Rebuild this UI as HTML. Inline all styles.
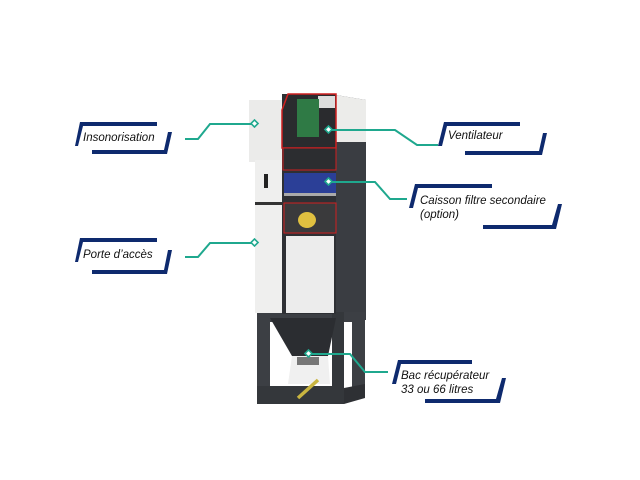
<!DOCTYPE html>
<html><head><meta charset="utf-8"><style>
body{margin:0;background:#fff;width:640px;height:480px;overflow:hidden}
svg{display:block}
text{font-family:"Liberation Sans",sans-serif;font-style:italic;font-size:11.5px;fill:#111}
</style></head><body>
<svg width="640" height="480" viewBox="0 0 640 480">
<!-- right dark side -->
<polygon points="336,95 366,100 366,320 336,320" fill="#3a3d42"/>
<polygon points="336,95 366,100 366,142 336,142" fill="#ececea"/>
<!-- stand -->
<rect x="257" y="312" width="108" height="10" fill="#3c3f44"/>
<rect x="257" y="312" width="13" height="92" fill="#3c3f44"/>
<rect x="332" y="312" width="12" height="92" fill="#34373b"/>
<rect x="352" y="312" width="13" height="86" fill="#3c3f44"/>
<rect x="257" y="386" width="87" height="18" fill="#34373b"/>
<polygon points="344,388 365,384 365,398 344,404" fill="#2e3034"/>
<polygon points="270,318 336,318 328,356 292,356" fill="#2b2d31"/>
<polygon points="292,356 328,356 330,384 288,384" fill="#f0f0f0"/>
<rect x="297" y="357" width="22" height="8" fill="#777"/>
<line x1="298" y1="398" x2="318" y2="380" stroke="#c9b540" stroke-width="3.5"/>
<!-- left white column -->
<rect x="249" y="100" width="36" height="62" fill="#ebebea"/>
<rect x="255" y="160" width="30" height="153" fill="#efefee"/>
<rect x="255" y="202" width="30" height="3" fill="#333"/>
<rect x="264" y="174" width="4" height="14" fill="#222"/>
<!-- cutaway -->
<rect x="282" y="94" width="54" height="220" fill="#2e3034"/>
<polygon points="282,110 288,94 336,94 336,148 282,148" fill="#2a2b2e" stroke="#d02020" stroke-width="1.5"/>
<rect x="318" y="96" width="17" height="12" fill="#ddd"/>
<rect x="297" y="99" width="22" height="38" fill="#2f7a45"/>
<rect x="283" y="148" width="53" height="22" fill="#2c2d30" stroke="#d02020" stroke-width="1"/>
<rect x="284" y="173" width="52" height="20" fill="#2b3f97"/>
<rect x="284" y="193" width="52" height="3" fill="#aaa"/>
<rect x="284" y="203" width="52" height="30" fill="#3a3a3c" stroke="#d02020" stroke-width="1"/>
<ellipse cx="307" cy="220" rx="9" ry="8" fill="#e0c040"/>
<rect x="286" y="236" width="48" height="77" fill="#ececec"/>
<!-- connectors -->
<g fill="none" stroke="#1fa88e" stroke-width="2">
<polyline points="185,139 198,139 210,124 255,124"/>
<polyline points="185,257 198,257 210,243 255,243"/>
<polyline points="330,130 395,130 417,145 438,145"/>
<polyline points="330,182 375,182 390,199 407,199"/>
<polyline points="310,354 350,354 365,372 388,372"/>
</g>
<g fill="#fff" stroke="#1fa88e" stroke-width="1.6">
<rect x="252" y="121" width="5" height="5" transform="rotate(45 254.5 123.5)"/>
<rect x="252" y="240" width="5" height="5" transform="rotate(45 254.5 242.5)"/>
<rect x="326" y="127" width="5" height="5" transform="rotate(45 328.5 129.5)"/>
<rect x="326" y="179" width="5" height="5" transform="rotate(45 328.5 181.5)"/>
<rect x="306" y="351" width="5" height="5" transform="rotate(45 308.5 353.5)"/>
</g>
<!-- label frames -->
<g fill="#0e2a6e">
<polygon points="80,122 157,122 157,126 83,126 78,146 75,146"/>
<polygon points="168,132 172,132 167,154 92,154 92,150 164,150"/>
<polygon points="80,238 157,238 157,242 83,242 78,262 75,262"/>
<polygon points="168,250 172,250 167,274 92,274 92,270 164,270"/>
<polygon points="444,122 520,122 520,126 447,126 442,146 438,146"/>
<polygon points="543,133 547,133 542,155 465,155 465,151 539,151"/>
<polygon points="415,184 492,184 492,188 418,188 413,208 409,208"/>
<polygon points="558,204 562,204 556,229 483,229 483,225 552,225"/>
<polygon points="398,360 472,360 472,364 401,364 396,384 392,384"/>
<polygon points="502,378 506,378 500,403 425,403 425,399 496,399"/>
</g>
<text x="83" y="141">Insonorisation</text>
<text x="83" y="258">Porte d’accès</text>
<text x="448" y="139">Ventilateur</text>
<text x="420" y="204">Caisson filtre secondaire</text>
<text x="420" y="218">(option)</text>
<text x="401" y="379">Bac récupérateur</text>
<text x="401" y="393">33 ou 66 litres</text>
</svg>
</body></html>
